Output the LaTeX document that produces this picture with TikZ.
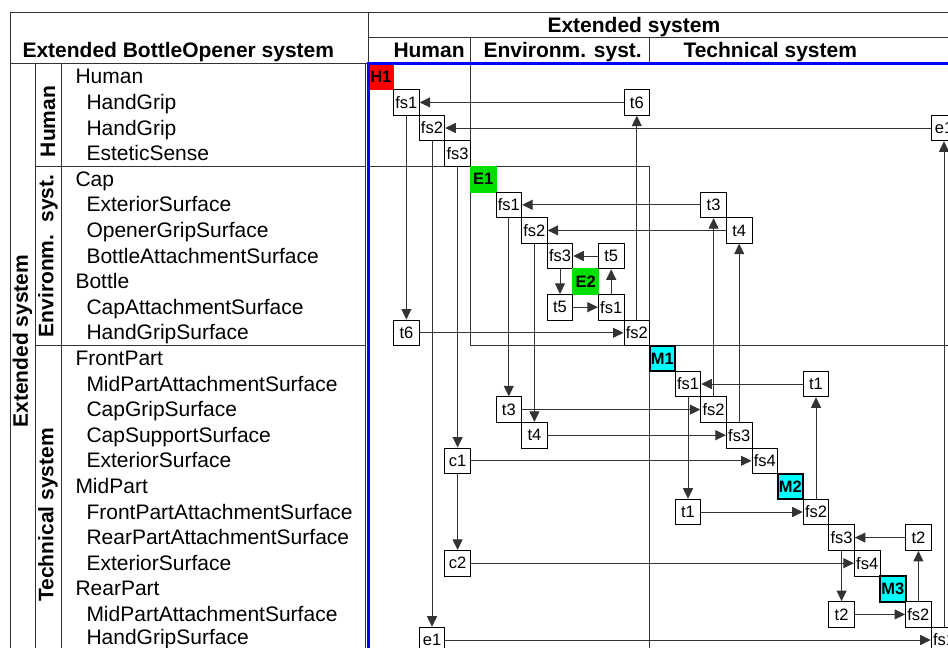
\documentclass[tikz,border=0pt]{standalone}
\usepackage{fontspec}
\setmainfont{Liberation Sans}
\usepackage{tikz}
\usetikzlibrary{arrows.meta, positioning}
\definecolor{hred}{HTML}{FF0000}
\definecolor{egreen}{HTML}{00E000}
\definecolor{mcyan}{HTML}{00FFFF}
\definecolor{linegray}{HTML}{333333}
\colorlet{frameblue}{blue}
\newcommand{\celltxt}{\fontsize{16.5pt}{18pt}\selectfont}
\newcommand{\rowtxt}{\fontsize{21pt}{24pt}\selectfont}

\tikzset{
  cell/.style={draw=black, fill=white, minimum size=25.6pt, inner sep=0pt, font=\celltxt},
  hbox/.style={cell, draw=hred, fill=hred, font=\celltxt\bfseries},
  ebox/.style={cell, draw=egreen, fill=egreen, font=\celltxt\bfseries},
  mbox/.style={cell, line width=2pt, fill=mcyan, font=\celltxt\bfseries},
  link/.style={linegray, line width=1pt, -{Triangle[length=10.5pt, width=10pt]}},
  part/.style={anchor=base west, inner sep=0pt, font=\rowtxt},
  head/.style={anchor=base west, inner sep=0pt, font=\rowtxt\bfseries},
  side/.style={rotate=90, inner sep=0pt, font=\rowtxt\bfseries},
}

\begin{document}
\begin{tikzpicture}[x=1pt, y=-1pt, line width=1pt]
    \useasboundingbox (0,0) rectangle (948,648);
    \clip (0,0) rectangle (948,648);

    % table frame
    \draw[linegray] (10,12) -- (948,12);
    \draw[linegray] (10,12) -- (10,648);
    \draw[linegray] (368,12) -- (368,63);
    \draw[linegray] (368,37) -- (948,37);
    \draw[linegray] (10,63) -- (368,63);
    \draw[linegray] (35,63) -- (35,648);
    \draw[linegray] (61,63) -- (61,648);
    \draw[linegray] (365,63) -- (365,648);
    \draw[linegray] (35,166.4) -- (365,166.4);
    \draw[linegray] (35,345.6) -- (365,345.6);
    \draw[linegray] (470.4,37) -- (470.4,63);
    \draw[linegray] (649.6,37) -- (649.6,63);

    % headers
    \node[head] (hleft) at (22,57) {Extended BottleOpener system};
    \node[head] (hext) at (547,32) {Extended system};
    \node[head] (hhum) at (393,57) {Human};
    \node[head] (henv) at (483,57) {Environm. syst.};
    \node[head] (htech) at (683,57) {Technical system};

    \node[side] (sext) at (22.5,341) {Extended system};
    \node[side] (shum) at (48,121.5) {Human};
    \node[side] (senv) at (48,256) {Environm.\hspace{12pt}syst.};
    \node[side] (stech) at (48,515) {Technical system};

    % parts and surfaces
    \node[part] (p0) at (75,83.8) {Human};
    \node[part] (p1) at (86,109.4) {HandGrip};
    \node[part] (p2) at (86,135.0) {HandGrip};
    \node[part] (p3) at (86,160.6) {EsteticSense};
    \node[part] (p4) at (75,186.2) {Cap};
    \node[part] (p5) at (86,211.8) {ExteriorSurface};
    \node[part] (p6) at (86,237.4) {OpenerGripSurface};
    \node[part] (p7) at (86,263.0) {BottleAttachmentSurface};
    \node[part] (p8) at (75,288.6) {Bottle};
    \node[part] (p9) at (86,314.2) {CapAttachmentSurface};
    \node[part] (p10) at (86,339.8) {HandGripSurface};
    \node[part] (p11) at (75,365.4) {FrontPart};
    \node[part] (p12) at (86,391.0) {MidPartAttachmentSurface};
    \node[part] (p13) at (86,416.6) {CapGripSurface};
    \node[part] (p14) at (86,442.2) {CapSupportSurface};
    \node[part] (p15) at (86,467.8) {ExteriorSurface};
    \node[part] (p16) at (75,493.4) {MidPart};
    \node[part] (p17) at (86,519.0) {FrontPartAttachmentSurface};
    \node[part] (p18) at (86,544.6) {RearPartAttachmentSurface};
    \node[part] (p19) at (86,570.2) {ExteriorSurface};
    \node[part] (p20) at (75,595.8) {RearPart};
    \node[part] (p21) at (86,621.4) {MidPartAttachmentSurface};
    \node[part] (p22) at (86,644.5) {HandGripSurface};

    \begin{scope}[shift={(368pt,-64pt)}, x=25.6pt, y=-25.6pt]
      % subsystem blocks
      \draw[linegray] (0,0) rectangle (4,4);
      \draw[linegray] (4,4) rectangle (11,11);
      \draw[linegray] (11,11) rectangle (23,23);

      % diagonal
      \node[hbox] (H1) at (0.5,0.5) {H1};
      \node[cell] (hfs1) at (1.5,1.5) {fs1};
      \node[cell] (hfs2) at (2.5,2.5) {fs2};
      \node[cell] (hfs3) at (3.5,3.5) {fs3};
      \node[ebox] (E1) at (4.5,4.5) {E1};
      \node[cell] (efs1) at (5.5,5.5) {fs1};
      \node[cell] (efs2) at (6.5,6.5) {fs2};
      \node[cell] (efs3) at (7.5,7.5) {fs3};
      \node[ebox] (E2) at (8.5,8.5) {E2};
      \node[cell] (bfs1) at (9.5,9.5) {fs1};
      \node[cell] (bfs2) at (10.5,10.5) {fs2};
      \node[mbox] (M1) at (11.5,11.5) {M1};
      \node[cell] (afs1) at (12.5,12.5) {fs1};
      \node[cell] (afs2) at (13.5,13.5) {fs2};
      \node[cell] (afs3) at (14.5,14.5) {fs3};
      \node[cell] (afs4) at (15.5,15.5) {fs4};
      \node[mbox] (M2) at (16.5,16.5) {M2};
      \node[cell] (mfs2) at (17.5,17.5) {fs2};
      \node[cell] (mfs3) at (18.5,18.5) {fs3};
      \node[cell] (mfs4) at (19.5,19.5) {fs4};
      \node[mbox] (M3) at (20.5,20.5) {M3};
      \node[cell] (rfs2) at (21.5,21.5) {fs2};
      \node[cell] (rfs1) at (22.5,22.5) {fs1};

      % interfaces
      \node[cell] (t6a) at (10.5,1.5) {t6};
      \node[cell] (t6b) at (1.5,10.5) {t6};
      \node[cell] (e1a) at (22.5,2.5) {e1};
      \node[cell] (e1b) at (2.5,22.5) {e1};
      \node[cell] (c1) at (3.5,15.5) {c1};
      \node[cell] (c2) at (3.5,19.5) {c2};
      \node[cell] (t3a) at (13.5,5.5) {t3};
      \node[cell] (t3b) at (5.5,13.5) {t3};
      \node[cell] (t4a) at (14.5,6.5) {t4};
      \node[cell] (t4b) at (6.5,14.5) {t4};
      \node[cell] (t5a) at (9.5,7.5) {t5};
      \node[cell] (t5b) at (7.5,9.5) {t5};
      \node[cell] (t1a) at (17.5,12.5) {t1};
      \node[cell] (t1b) at (12.5,17.5) {t1};
      \node[cell] (t2a) at (21.5,18.5) {t2};
      \node[cell] (t2b) at (18.5,21.5) {t2};
    \end{scope}

    % flows
    \draw[link] (hfs1) -- (t6b);
    \draw[link] (t6b) -- (bfs2);
    \draw[link] (bfs2) -- (t6a);
    \draw[link] (t6a) -- (hfs1);
    \draw[link] (hfs2) -- (e1b);
    \draw[link] (e1b) -- (rfs1);
    \draw[link] (rfs1) -- (e1a);
    \draw[link] (e1a) -- (hfs2);
    \draw[link] (hfs3) -- (c1);
    \draw[link] (c1) -- (c2);
    \draw[link] (c1) -- (afs4);
    \draw[link] (c2) -- (mfs4);
    \draw[link] (efs1) -- (t3b);
    \draw[link] (t3b) -- (afs2);
    \draw[link] (afs2) -- (t3a);
    \draw[link] (t3a) -- (efs1);
    \draw[link] (efs2) -- (t4b);
    \draw[link] (t4b) -- (afs3);
    \draw[link] (afs3) -- (t4a);
    \draw[link] (t4a) -- (efs2);
    \draw[link] (efs3) -- (t5b);
    \draw[link] (t5b) -- (bfs1);
    \draw[link] (bfs1) -- (t5a);
    \draw[link] (t5a) -- (efs3);
    \draw[link] (afs1) -- (t1b);
    \draw[link] (t1b) -- (mfs2);
    \draw[link] (mfs2) -- (t1a);
    \draw[link] (t1a) -- (afs1);
    \draw[link] (mfs3) -- (t2b);
    \draw[link] (t2b) -- (rfs2);
    \draw[link] (rfs2) -- (t2a);
    \draw[link] (t2a) -- (mfs3);

    % matrix frame
    \draw[frameblue, line width=3pt] (368.5,648) -- (368.5,63) -- (948,63);
\end{tikzpicture}
\end{document}
